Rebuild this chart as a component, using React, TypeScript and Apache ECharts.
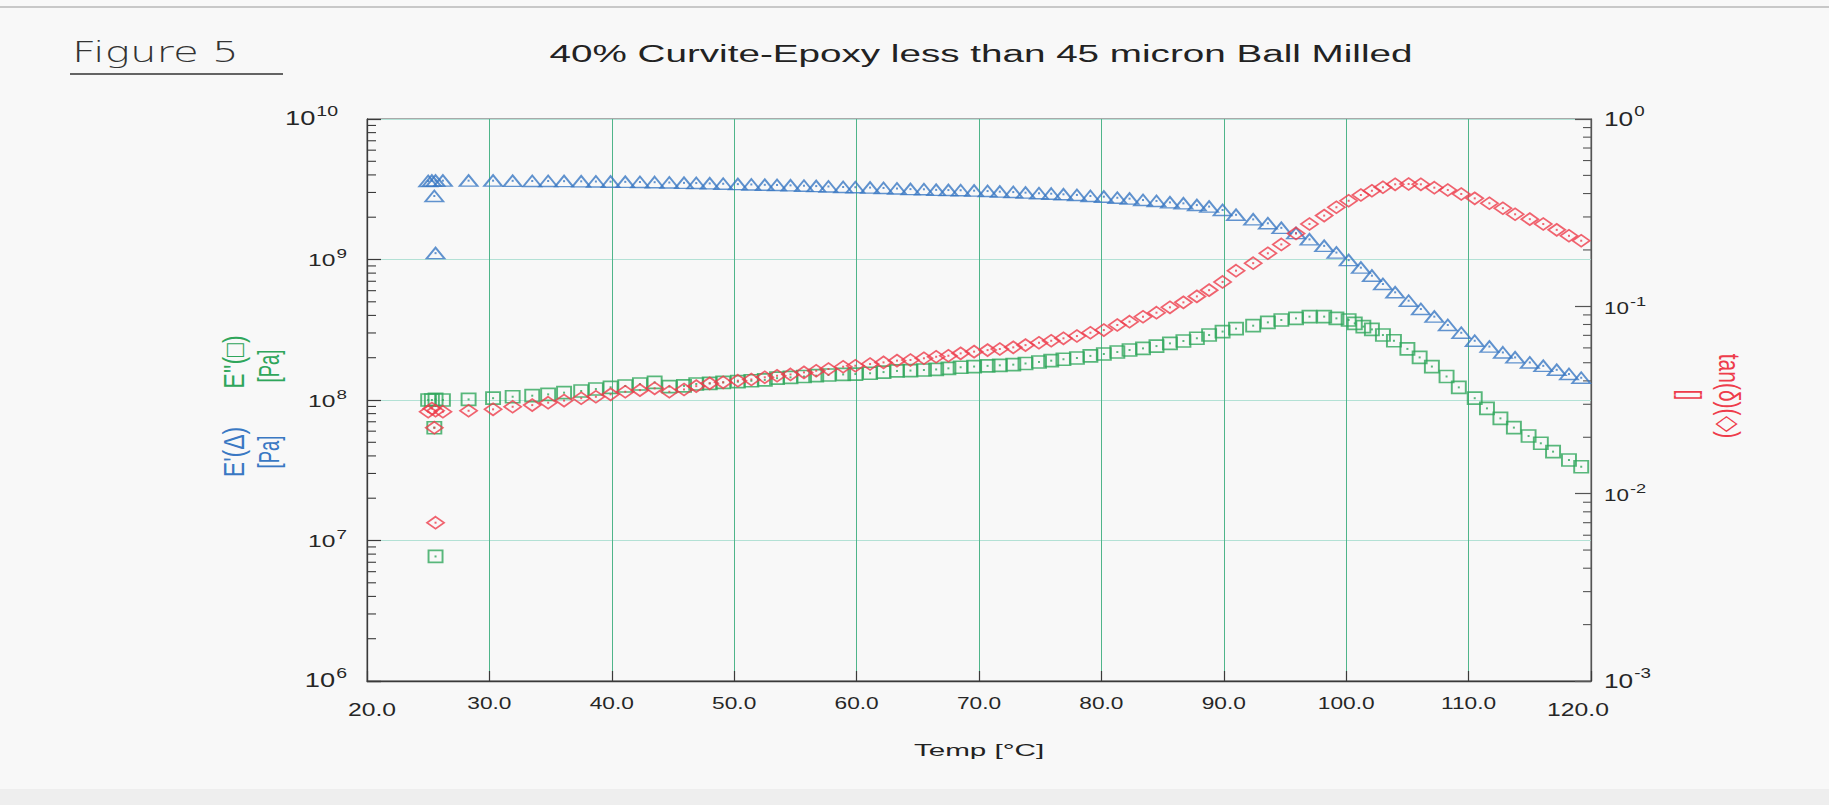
import React, { useEffect, useRef } from 'react';
import * as echarts from 'echarts';

// ---------- data ----------
const temps = [
  25.0, 25.3, 25.5, 25.6, 25.6, 26.2,
  28.3, 30.3, 31.9, 33.5, 34.8, 36.1, 37.5, 38.7, 39.9, 41.1, 42.3, 43.5, 44.7, 45.9,
  46.9, 48.0, 49.1, 50.3, 51.4, 52.5, 53.5, 54.6, 55.7, 56.7, 57.7, 58.9, 59.9, 61.1, 62.2, 63.3,
  64.4, 65.5, 66.5, 67.5, 68.5, 69.6, 70.7, 71.7, 72.8, 73.8, 74.9, 75.9, 76.9, 78.0, 79.1, 80.2,
  81.3, 82.3, 83.4, 84.5, 85.6, 86.7, 87.8, 88.8, 89.9, 91.0,
  92.4, 93.6, 94.7, 95.9, 97.0, 98.2, 99.2, 100.2, 101.2, 102.1, 103.0, 104.0, 105.1, 106.1,
  107.2, 108.3, 109.4, 110.5, 111.7, 112.8, 113.8, 115.0, 116.1, 117.2, 118.2, 119.2,
];

const storageModulus = [
  3.62e9, 3.64e9, 2.83e9, 1.11e9, 3.64e9, 3.64e9,
  3.64e9, 3.64e9, 3.63e9, 3.62e9, 3.62e9, 3.61e9, 3.60e9, 3.59e9, 3.58e9, 3.57e9, 3.56e9, 3.55e9, 3.53e9, 3.51e9,
  3.50e9, 3.48e9, 3.46e9, 3.44e9, 3.42e9, 3.40e9, 3.39e9, 3.37e9, 3.35e9, 3.33e9, 3.31e9, 3.28e9, 3.27e9, 3.25e9, 3.23e9, 3.20e9,
  3.17e9, 3.16e9, 3.13e9, 3.12e9, 3.11e9, 3.09e9, 3.07e9, 3.04e9, 3.02e9, 2.99e9, 2.96e9, 2.94e9, 2.91e9, 2.88e9, 2.83e9, 2.80e9,
  2.75e9, 2.71e9, 2.65e9, 2.61e9, 2.55e9, 2.51e9, 2.44e9, 2.38e9, 2.25e9, 2.08e9,
  1.93e9, 1.81e9, 1.68e9, 1.54e9, 1.39e9, 1.25e9, 1.12e9, 9.9e8, 8.75e8, 7.67e8, 6.69e8, 5.84e8, 5.09e8, 4.44e8,
  3.92e8, 3.42e8, 3.01e8, 2.64e8, 2.40e8, 2.18e8, 2.01e8, 1.85e8, 1.75e8, 1.64e8, 1.53e8, 1.44e8,
];

const tanDelta = [
  0.0274, 0.0285, 0.0225, 0.0070, 0.0277, 0.0274,
  0.0277, 0.0282, 0.0291, 0.0297, 0.0306, 0.0314, 0.0323, 0.0329, 0.0339, 0.0350, 0.0357, 0.0365, 0.0350, 0.0360,
  0.0375, 0.0388, 0.0393, 0.0401, 0.0407, 0.0418, 0.0426, 0.0433, 0.0444, 0.0453, 0.0463, 0.0476, 0.0482, 0.0492, 0.0502, 0.0513,
  0.0517, 0.0528, 0.0538, 0.0545, 0.0561, 0.0573, 0.0584, 0.0592, 0.0604, 0.0621, 0.0639, 0.0655, 0.0675, 0.0694, 0.0723, 0.0747,
  0.0795, 0.0828, 0.0880, 0.0925, 0.0988, 0.105, 0.113, 0.122, 0.135, 0.155,
  0.170, 0.192, 0.214, 0.245, 0.275, 0.305, 0.338, 0.366, 0.393, 0.414, 0.432, 0.448, 0.450, 0.448,
  0.430, 0.418, 0.398, 0.377, 0.355, 0.334, 0.310, 0.292, 0.275, 0.256, 0.238, 0.224,
];

const lossTemps = [
  25.0, 25.3, 25.5, 25.6, 25.6, 26.2,
  28.3, 30.3, 31.9, 33.5, 34.8, 36.1, 37.5, 38.7, 39.9, 41.1, 42.3, 43.5, 44.7, 45.9,
  46.9, 48.0, 49.1, 50.3, 51.4, 52.5, 53.5, 54.6, 55.7, 56.7, 57.7, 58.9, 59.9, 61.1, 62.2, 63.3,
  64.4, 65.5, 66.5, 67.5, 68.5, 69.6, 70.7, 71.7, 72.8, 73.8, 74.9, 75.9, 76.9, 78.0, 79.1, 80.2,
  81.3, 82.3, 83.4, 84.5, 85.6, 86.7, 87.8, 88.8, 89.9, 91.0,
  92.4, 93.6, 94.7, 95.9, 97.0, 98.2, 99.2, 100.2,
  100.7, 101.4, 102.1, 103.0, 103.9, 105.0, 106.0, 107.0, 108.2, 109.2, 110.5, 111.5, 112.6, 113.7,
  114.9, 115.9, 116.9, 118.2, 119.2,
];

const lossModulus = [
  1.00e8, 1.00e8, 6.35e7, 7.7e6, 1.01e8, 1.00e8,
  1.01e8, 1.03e8, 1.055e8, 1.073e8, 1.097e8, 1.128e8, 1.159e8, 1.197e8, 1.231e8, 1.258e8, 1.30e8, 1.335e8, 1.245e8, 1.26e8,
  1.30e8, 1.314e8, 1.335e8, 1.35e8, 1.37e8, 1.39e8, 1.43e8, 1.45e8, 1.47e8, 1.49e8, 1.507e8, 1.52e8, 1.53e8, 1.55e8, 1.58e8, 1.61e8,
  1.62e8, 1.635e8, 1.65e8, 1.68e8, 1.71e8, 1.73e8, 1.75e8, 1.765e8, 1.785e8, 1.82e8, 1.865e8, 1.905e8, 1.95e8, 1.99e8, 2.06e8, 2.125e8,
  2.195e8, 2.27e8, 2.33e8, 2.42e8, 2.53e8, 2.63e8, 2.75e8, 2.90e8, 3.07e8, 3.22e8,
  3.38e8, 3.57e8, 3.71e8, 3.81e8, 3.92e8, 3.92e8, 3.81e8, 3.71e8,
  3.51e8, 3.33e8, 3.18e8, 2.90e8, 2.64e8, 2.31e8, 2.01e8, 1.73e8, 1.47e8, 1.23e8, 1.03e8, 8.72e7, 7.40e7, 6.36e7,
  5.54e7, 4.92e7, 4.29e7, 3.74e7, 3.35e7,
];

const xTickValues = [20, 30, 40, 50, 60, 70, 80, 90, 100, 110, 120];
const xTickLabels = ['20.0', '30.0', '40.0', '50.0', '60.0', '70.0', '80.0', '90.0', '100.0', '110.0', '120.0'];
const leftTickValues = [1e6, 1e7, 1e8, 1e9, 1e10];
const rightTickValues = [1e-3, 1e-2, 1e-1, 1];
const minorMantissas = [2, 3, 4, 5, 6, 7, 8, 9];
const leftDecades = [1e6, 1e7, 1e8, 1e9];
const rightDecades = [1e-3, 1e-2, 1e-1];

// ---------- styles ----------
const BLUE = '#3a78c3';
const GREEN = '#2fa65b';
const RED = '#ee3c4b';
const VGRID = '#4fb58a';
const HGRID = '#b3e1d5';
const AXIS = '#3a3a3a';
const TEXT = '#262626';
const FONT = '"Liberation Sans", Arial, sans-serif';

const charW = (s: string) =>
  s.split('').reduce((a, c) => a + (c === '-' ? 0.333 : 0.556), 0);

function txt(x: number, y: number, text: string, size: number, fill: string, align: string, vAlign: string, extra: any = {}) {
  return {
    type: 'text',
    x,
    y,
    silent: true,
    ...extra,
    style: {
      text,
      fontSize: size,
      fontFamily: FONT,
      fill,
      align,
      textAlign: align,
      verticalAlign: vAlign,
      textVerticalAlign: vAlign,
      ...(extra.style || {}),
    },
  };
}

export default function App() {
  const ref = useRef<HTMLDivElement>(null);

  useEffect(() => {
    if (!ref.current) return;
    const chart = echarts.init(ref.current, null, { renderer: 'svg' });

    const leftMinor: number[][] = [];
    leftDecades.forEach((d) => minorMantissas.forEach((m) => leftMinor.push([20, m * d])));
    const rightMinor: number[][] = [];
    rightDecades.forEach((d) => minorMantissas.forEach((m) => rightMinor.push([120, m * d])));

    const hollow = (color: string) => ({ color: 'rgba(0,0,0,0)', borderColor: color, borderWidth: 1.8 });

    const option: any = {
      animation: false,
      backgroundColor: 'transparent',
      grid: {
        left: 367, top: 119, width: 1224, height: 562,
        show: true, borderColor: '#5a5a5a', borderWidth: 1, backgroundColor: 'transparent',
      },
      xAxis: {
        type: 'value', min: 20, max: 120, interval: 10,
        axisLine: { show: true, onZero: false, lineStyle: { color: AXIS, width: 1.3 } },
        axisTick: { show: true, inside: true, length: 10, lineStyle: { color: AXIS, width: 1.2 } },
        axisLabel: { show: false },
        splitLine: { show: true, lineStyle: { color: VGRID, width: 1 } },
      },
      yAxis: [
        {
          type: 'log', logBase: 10, min: 1e6, max: 1e10, position: 'left',
          axisLine: { show: true, onZero: false, lineStyle: { color: AXIS, width: 1.3 } },
          axisTick: { show: true, inside: true, length: 14, lineStyle: { color: AXIS, width: 1.2 } },
          axisLabel: { show: false },
          splitLine: { show: true, lineStyle: { color: HGRID, width: 1 } },
        },
        {
          type: 'log', logBase: 10, min: 1e-3, max: 1, position: 'right',
          axisLine: { show: true, onZero: false, lineStyle: { color: '#555', width: 1.3 } },
          axisTick: { show: true, inside: true, length: 16, lineStyle: { color: '#555', width: 1.2 } },
          axisLabel: { show: false },
          splitLine: { show: false },
        },
      ],
      graphic: [
        { type: 'rect', silent: true, z: -10, shape: { x: 0, y: 789, width: 1829, height: 16 }, style: { fill: '#eeeeee' } },
        { type: 'line', silent: true, shape: { x1: 0, y1: 7, x2: 1829, y2: 7 }, style: { stroke: '#c8c8c8', lineWidth: 2 } },
        txt(981, 54, '40% Curvite-Epoxy less than 45 micron Ball Milled', 23, '#222', 'center', 'middle', { scaleX: 1.68 }),
        txt(72, 52, 'Figure 5', 28, '#333', 'left', 'middle', {
          scaleX: 1.5,
          style: { fontFamily: '"DejaVu Sans", sans-serif', fontWeight: 200 },
        }),
        { type: 'line', silent: true, shape: { x1: 70, y1: 74, x2: 283, y2: 74 }, style: { stroke: '#333', lineWidth: 1.5 } },
        txt(979, 750, 'Temp [°C]', 16, '#222', 'center', 'middle', { scaleX: 1.85 }),
        txt(234, 452, "E'(Δ)", 20, BLUE, 'center', 'middle', { rotation: Math.PI / 2, scaleX: 1.15, scaleY: 1.45 }),
        txt(234, 362, "E''(□)", 20, GREEN, 'center', 'middle', { rotation: Math.PI / 2, scaleX: 1.15, scaleY: 1.45 }),
        txt(269, 452, '[Pa]', 18.5, BLUE, 'center', 'middle', { rotation: Math.PI / 2, scaleX: 1.0, scaleY: 1.55 }),
        txt(269, 366, '[Pa]', 18.5, GREEN, 'center', 'middle', { rotation: Math.PI / 2, scaleX: 1.0, scaleY: 1.55 }),
        txt(1729, 396, 'tan(δ)(◇)', 20, RED, 'center', 'middle', { rotation: -Math.PI / 2, scaleX: 1.05, scaleY: 1.45 }),
        txt(1690, 395, '[]', 18.5, RED, 'center', 'middle', { rotation: -Math.PI / 2, scaleX: 1.0, scaleY: 1.55 }),
      ],
      series: [
        // minor ticks, left axis
        {
          type: 'custom', xAxisIndex: 0, yAxisIndex: 0, silent: true, z: 4,
          data: leftMinor,
          renderItem: (params: any, api: any) => {
            const p = api.coord([api.value(0), api.value(1)]);
            return { type: 'line', shape: { x1: p[0], y1: p[1], x2: p[0] + 9, y2: p[1] }, style: { stroke: AXIS, lineWidth: 1.1 } };
          },
        },
        // minor ticks, right axis
        {
          type: 'custom', xAxisIndex: 0, yAxisIndex: 1, silent: true, z: 4,
          data: rightMinor,
          renderItem: (params: any, api: any) => {
            const p = api.coord([api.value(0), api.value(1)]);
            return { type: 'line', shape: { x1: p[0] - 8, y1: p[1], x2: p[0], y2: p[1] }, style: { stroke: '#555', lineWidth: 1.1 } };
          },
        },
        // x tick labels
        {
          type: 'custom', xAxisIndex: 0, yAxisIndex: 0, silent: true, z: 4,
          data: xTickValues.map((v) => [v, 1e6]),
          renderItem: (params: any, api: any) => {
            const i = params.dataIndex;
            const p = api.coord([api.value(0), api.value(1)]);
            const last = i === xTickValues.length - 1;
            const corner = i === 0 || last;
            const dx = last ? -13 : i === 0 ? 5 : 0;
            return txt(p[0] + dx, p[1] + (corner ? 28.5 : 22.5), xTickLabels[i], corner ? 19 : 16, TEXT, 'center', 'middle', { scaleX: corner ? 1.3 : 1.42 });
          },
        },
        // left tick labels 10^n
        {
          type: 'custom', xAxisIndex: 0, yAxisIndex: 0, silent: true, z: 4,
          data: leftTickValues.map((v) => [20, v]),
          renderItem: (params: any, api: any) => {
            const i = params.dataIndex;
            const v = api.value(1);
            const p = api.coord([api.value(0), v]);
            const corner = i === 0 || i === leftTickValues.length - 1;
            const bf = corner ? 21 : 17;
            const ef = corner ? 15 : 13;
            const sc = corner ? 1.3 : 1.45;
            const e = String(Math.round(Math.log10(v)));
            const anchor = p[0] - 20 - (e.length > 1 ? 9 : 0);
            const ew = charW(e) * ef * sc;
            return {
              type: 'group',
              children: [
                txt(anchor - ew - 1, p[1] + (corner ? -1.5 : 0.5), '10', bf, TEXT, 'right', 'middle', { scaleX: sc }),
                txt(anchor, p[1] + (corner ? -8.5 : -6), e, ef, TEXT, 'right', 'middle', { scaleX: sc }),
              ],
            };
          },
        },
        // right tick labels 10^n
        {
          type: 'custom', xAxisIndex: 0, yAxisIndex: 1, silent: true, z: 4,
          data: rightTickValues.map((v) => [120, v]),
          renderItem: (params: any, api: any) => {
            const i = params.dataIndex;
            const v = api.value(1);
            const p = api.coord([api.value(0), v]);
            const corner = i === 0 || i === rightTickValues.length - 1;
            const bf = corner ? 21 : 16;
            const ef = corner ? 15 : 13;
            const sc = corner ? 1.25 : 1.4;
            const e = String(Math.round(Math.log10(v)));
            const left = p[0] + 13;
            const bw = 1.112 * bf * sc;
            return {
              type: 'group',
              children: [
                txt(left, p[1] + (corner ? -1 : 1.5), '10', bf, TEXT, 'left', 'middle', { scaleX: sc }),
                txt(left + bw + 1, p[1] + (corner ? -8 : -5), e, ef, TEXT, 'left', 'middle', { scaleX: sc }),
              ],
            };
          },
        },
        // data: E' (triangles)
        {
          type: 'scatter', name: "E'", xAxisIndex: 0, yAxisIndex: 0, z: 6,
          data: temps.map((t, i) => [t, storageModulus[i]]),
          symbol: 'triangle', symbolSize: [18, 11], itemStyle: hollow(BLUE),
        },
        {
          type: 'scatter', xAxisIndex: 0, yAxisIndex: 0, z: 6, silent: true,
          data: temps.map((t, i) => [t, storageModulus[i]]),
          symbol: 'rect', symbolSize: 2, itemStyle: { color: BLUE },
        },
        // data: E'' (squares)
        {
          type: 'scatter', name: "E''", xAxisIndex: 0, yAxisIndex: 0, z: 6,
          data: lossTemps.map((t, i) => [t, lossModulus[i]]),
          symbol: 'rect', symbolSize: [14, 12], itemStyle: hollow(GREEN),
        },
        {
          type: 'scatter', xAxisIndex: 0, yAxisIndex: 0, z: 6, silent: true,
          data: lossTemps.map((t, i) => [t, lossModulus[i]]),
          symbol: 'rect', symbolSize: 2, itemStyle: { color: GREEN },
        },
        // data: tan(delta) (diamonds)
        {
          type: 'scatter', name: 'tan(δ)', xAxisIndex: 0, yAxisIndex: 1, z: 6,
          data: temps.map((t, i) => [t, tanDelta[i]]),
          symbol: 'diamond', symbolSize: [17, 12], itemStyle: hollow(RED),
        },
        {
          type: 'scatter', xAxisIndex: 0, yAxisIndex: 1, z: 6, silent: true,
          data: temps.map((t, i) => [t, tanDelta[i]]),
          symbol: 'rect', symbolSize: 2, itemStyle: { color: RED },
        },
      ],
    };

    chart.setOption(option);
    return () => chart.dispose();
  }, []);

  return (
    <div
      ref={ref}
      style={{ position: 'absolute', left: 0, top: 0, width: 1829, height: 805, background: '#f8f8f8' }}
    />
  );
}
